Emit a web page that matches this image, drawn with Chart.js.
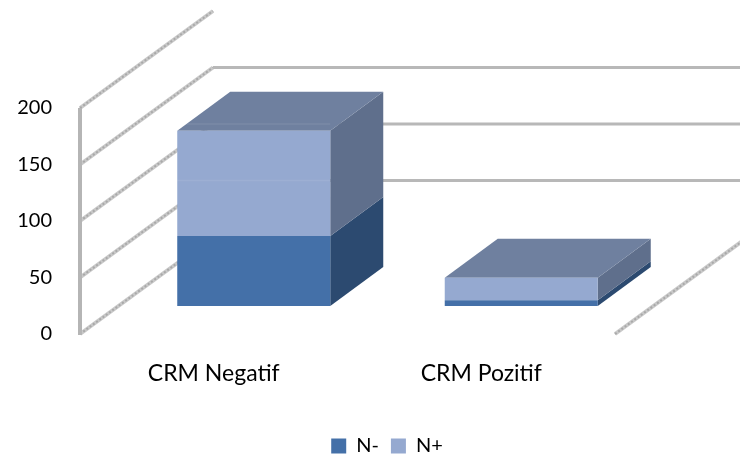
<!DOCTYPE html>
<html>
<head>
<meta charset="utf-8">
<title>CRM N- / N+</title>
<style>
  html, body { margin: 0; padding: 0; background: #fff; }
  canvas { display: block; }
</style>
<script src="https://cdn.jsdelivr.net/npm/chart.js@4/dist/chart.umd.js"></script>
</head>
<body>
<canvas id="barChart" width="740" height="460"></canvas>
<script>
const categories = ['CRM Negatif', 'CRM Pozitif'];
const negativeValues = [62, 5];
const positiveValues = [93, 20];
const yTicks = [0, 50, 100, 150, 200];

// floor depth of the box (front edge to back wall) and of the bars themselves
const floorDepth = { x: 133, y: -97 };
const barOffset = { x: 40, y: -28 };
const barDepth = { x: 53, y: -39 };

const faceColors = [
  { side: '#2c4a70', top: '#2c4a70' },
  { side: '#5f6f8c', top: '#6f809f' },
];

function strokeWallLine(ctx, x1, y1, x2, y2) {
  ctx.beginPath();
  ctx.moveTo(x1, y1);
  ctx.lineTo(x2, y2);
  ctx.lineWidth = 4;
  ctx.strokeStyle = '#c9c9c9';
  ctx.stroke();
  ctx.setLineDash([2, 2]);
  ctx.lineWidth = 2;
  ctx.strokeStyle = '#a9a9a9';
  ctx.stroke();
  ctx.setLineDash([]);
}

function drawWalls(chart) {
  const ctx = chart.ctx;
  const y = chart.scales.y;
  const area = chart.chartArea;

  yTicks.forEach(v => {
    const py = y.getPixelForValue(v);
    strokeWallLine(ctx, area.left, py, area.left + floorDepth.x, py + floorDepth.y);
    if (v !== yTicks[0] && v !== yTicks[yTicks.length - 1]) {
      ctx.beginPath();
      ctx.moveTo(area.left + floorDepth.x, py + floorDepth.y);
      ctx.lineTo(chart.width, py + floorDepth.y);
      ctx.lineWidth = 3;
      ctx.strokeStyle = '#b8b8b8';
      ctx.stroke();
    }
  });

  // right edge of the floor
  strokeWallLine(ctx, area.right, y.getPixelForValue(0),
    area.right + floorDepth.x, y.getPixelForValue(0) + floorDepth.y);

  // value axis
  ctx.beginPath();
  ctx.moveTo(area.left, y.getPixelForValue(200));
  ctx.lineTo(area.left, y.getPixelForValue(0) + 1);
  ctx.lineWidth = 4;
  ctx.strokeStyle = '#b5b5b5';
  ctx.stroke();
}

function fillFace(ctx, points, color) {
  ctx.beginPath();
  points.forEach((p, i) => (i ? ctx.lineTo(p[0], p[1]) : ctx.moveTo(p[0], p[1])));
  ctx.closePath();
  ctx.fillStyle = color;
  ctx.fill();
}

// side faces for each stacked segment, top face for the last one
function drawBarFaces(chart) {
  const ctx = chart.ctx;
  chart.data.datasets.forEach((ds, i) => {
    chart.getDatasetMeta(i).data.forEach(bar => {
      const right = bar.x + bar.width / 2;
      const left = bar.x - bar.width / 2;
      fillFace(ctx, [
        [right, bar.y],
        [right + barDepth.x, bar.y + barDepth.y],
        [right + barDepth.x, bar.base + barDepth.y],
        [right, bar.base],
      ], faceColors[i].side);
      if (i === chart.data.datasets.length - 1) {
        fillFace(ctx, [
          [left, bar.y],
          [left + barDepth.x, bar.y + barDepth.y],
          [right + barDepth.x, bar.y + barDepth.y],
          [right, bar.y],
        ], faceColors[i].top);
      }
    });
  });
}

// back wall lines show faintly through the bars
function drawLinesThroughBars(chart) {
  const ctx = chart.ctx;
  const y = chart.scales.y;
  const last = chart.data.datasets.length - 1;
  ctx.lineWidth = 1.5;
  ctx.strokeStyle = 'rgba(255,255,255,0.08)';
  yTicks.slice(1, -1).forEach(v => {
    const py = y.getPixelForValue(v) + floorDepth.y - barOffset.y;
    chart.getDatasetMeta(last).data.forEach(bar => {
      const left = bar.x - bar.width / 2;
      const right = bar.x + bar.width / 2;
      let shift = null;
      if (py >= bar.y && py <= bar.base) shift = 0;
      else if (py < bar.y && py > bar.y + barDepth.y) shift = (py - bar.y) / barDepth.y * barDepth.x;
      if (shift === null) return;
      ctx.beginPath();
      ctx.moveTo(left + shift, py);
      ctx.lineTo(right, py);
      ctx.stroke();
    });
  });
}

const boxPlugin = {
  id: 'box3d',
  afterLayout(chart) {
    // legend sits right of centre and close to the bottom edge
    chart.legend.left += 34;
    chart.legend.top += 6;
  },
  beforeDatasetsDraw(chart) {
    drawWalls(chart);
    chart.ctx.save();
    chart.ctx.translate(barOffset.x, barOffset.y);
    drawBarFaces(chart);
  },
  afterDatasetsDraw(chart) {
    drawLinesThroughBars(chart);
    chart.ctx.restore();
  },
};

new Chart(document.getElementById('barChart'), {
  type: 'bar',
  plugins: [boxPlugin],
  data: {
    labels: categories,
    datasets: [
      { label: 'N-', data: negativeValues, backgroundColor: '#4470a8', clip: false },
      { label: 'N+', data: positiveValues, backgroundColor: '#95a9d0', clip: false },
    ],
  },
  options: {
    responsive: false,
    animation: false,
    categoryPercentage: 0.572,
    barPercentage: 1,
    layout: { padding: { left: 0, right: 0, top: 108, bottom: 0 } },
    plugins: {
      tooltip: { enabled: false },
      legend: {
        position: 'bottom',
        labels: {
          boxWidth: 15,
          boxHeight: 15,
          padding: 12,
          font: { family: 'Lato', size: 20 },
          color: '#000',
        },
      },
    },
    scales: {
      x: {
        stacked: true,
        grid: { display: false },
        border: { display: false },
        ticks: { font: { family: 'Lato', size: 23 }, color: '#000', padding: 18, maxRotation: 0 },
        afterFit(scale) { scale.height = 84; },
      },
      y: {
        stacked: true,
        min: 0,
        max: 200,
        grid: { display: false, drawTicks: false },
        border: { display: false },
        afterBuildTicks(scale) { scale.ticks = yTicks.map(value => ({ value })); },
        ticks: { font: { family: 'Lato', size: 20 }, color: '#000', padding: 28 },
        afterFit(scale) { scale.width = 80; },
      },
      // keeps room on the right for the floor edge running off the side
      yRight: {
        position: 'right',
        min: 0,
        max: 200,
        grid: { display: false, drawTicks: false },
        border: { display: false },
        ticks: { display: false },
        afterFit(scale) { scale.width = 125; },
      },
    },
  },
});
</script>
</body>
</html>
